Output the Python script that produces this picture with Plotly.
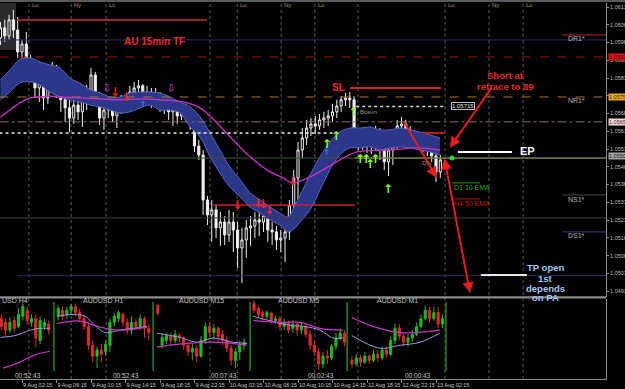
import plotly.graph_objects as go

FONT = "Liberation Sans"
SYM = "DejaVu Sans"
H = 389.0


def py(px):
    return 1 - px / H


# ---------------- main AUDUSD chart (price bars) ----------------
bar_open = [1.06004, 1.06047, 1.06013, 1.06081, 1.06038, 1.05945, 1.05979, 1.05903, 1.05886, 1.05793,
            1.05852, 1.05751, 1.05819, 1.05869, 1.05785, 1.05743, 1.05709, 1.05666, 1.05721, 1.05692,
            1.05743, 1.05776, 1.05848, 1.05759, 1.05666, 1.05700, 1.05726, 1.05675, 1.05709, 1.05743,
            1.05726, 1.05776, 1.05793, 1.05802, 1.05759, 1.05776, 1.05751, 1.05768, 1.05717, 1.05743,
            1.05692, 1.05709, 1.05675, 1.05700, 1.05675, 1.05641, 1.05548, 1.05510, 1.05320, 1.05257,
            1.05278, 1.05202, 1.05227, 1.05172, 1.05227, 1.05193, 1.05117, 1.05151, 1.05202, 1.05210,
            1.05236, 1.05227, 1.05252, 1.05193, 1.05185, 1.05151, 1.05159, 1.05185, 1.05299, 1.05413,
            1.05531, 1.05582, 1.05624, 1.05641, 1.05633, 1.05658, 1.05666, 1.05675, 1.05692, 1.05717,
            1.05743, 1.05751, 1.05743, 1.05590, 1.05565, 1.05582, 1.05548, 1.05574, 1.05598, 1.05540,
            1.05481, 1.05531, 1.05574, 1.05633, 1.05641, 1.05616, 1.05598, 1.05582, 1.05565, 1.05548,
            1.05531, 1.05506, 1.05438]
bar_close = [1.06047, 1.06013, 1.06081, 1.06038, 1.05945, 1.05979, 1.05903, 1.05886, 1.05793, 1.05852,
             1.05751, 1.05819, 1.05869, 1.05785, 1.05743, 1.05709, 1.05666, 1.05721, 1.05692, 1.05743,
             1.05776, 1.05848, 1.05759, 1.05666, 1.05700, 1.05726, 1.05675, 1.05709, 1.05743, 1.05726,
             1.05776, 1.05793, 1.05802, 1.05759, 1.05776, 1.05751, 1.05768, 1.05717, 1.05743, 1.05692,
             1.05709, 1.05675, 1.05700, 1.05675, 1.05641, 1.05548, 1.05510, 1.05320, 1.05257, 1.05278,
             1.05202, 1.05227, 1.05172, 1.05227, 1.05193, 1.05117, 1.05151, 1.05202, 1.05210, 1.05236,
             1.05227, 1.05252, 1.05193, 1.05185, 1.05151, 1.05159, 1.05185, 1.05299, 1.05413, 1.05531,
             1.05582, 1.05624, 1.05641, 1.05633, 1.05658, 1.05666, 1.05675, 1.05692, 1.05717, 1.05743,
             1.05751, 1.05743, 1.05590, 1.05565, 1.05582, 1.05548, 1.05574, 1.05598, 1.05540, 1.05481,
             1.05531, 1.05574, 1.05633, 1.05641, 1.05616, 1.05598, 1.05582, 1.05565, 1.05548, 1.05531,
             1.05506, 1.05438, 1.05489]
bar_high = [1.06072, 1.06081, 1.06102, 1.06123, 1.06093, 1.05996, 1.06030, 1.05933, 1.05912, 1.05903,
            1.05861, 1.05835, 1.05903, 1.05890, 1.05819, 1.05759, 1.05743, 1.05743, 1.05759, 1.05764,
            1.05806, 1.05878, 1.05861, 1.05776, 1.05726, 1.05751, 1.05743, 1.05726, 1.05764, 1.05768,
            1.05802, 1.05819, 1.05827, 1.05810, 1.05802, 1.05793, 1.05793, 1.05776, 1.05759, 1.05751,
            1.05734, 1.05726, 1.05717, 1.05726, 1.05700, 1.05692, 1.05574, 1.05531, 1.05337, 1.05320,
            1.05299, 1.05269, 1.05252, 1.05278, 1.05269, 1.05227, 1.05202, 1.05236, 1.05252, 1.05269,
            1.05278, 1.05286, 1.05269, 1.05227, 1.05210, 1.05193, 1.05214, 1.05320, 1.05447, 1.05565,
            1.05624, 1.05658, 1.05666, 1.05675, 1.05683, 1.05692, 1.05700, 1.05726, 1.05743, 1.05759,
            1.05772, 1.05776, 1.05759, 1.05616, 1.05607, 1.05598, 1.05607, 1.05633, 1.05624, 1.05557,
            1.05557, 1.05603, 1.05658, 1.05671, 1.05658, 1.05633, 1.05616, 1.05598, 1.05582, 1.05574,
            1.05548, 1.05523, 1.05510]
bar_low = [1.05975, 1.05988, 1.05996, 1.06004, 1.05920, 1.05903, 1.05869, 1.05861, 1.05751, 1.05734,
           1.05700, 1.05726, 1.05793, 1.05751, 1.05692, 1.05650, 1.05607, 1.05641, 1.05658, 1.05628,
           1.05700, 1.05751, 1.05721, 1.05637, 1.05616, 1.05666, 1.05650, 1.05624, 1.05683, 1.05692,
           1.05709, 1.05743, 1.05759, 1.05726, 1.05734, 1.05709, 1.05726, 1.05692, 1.05683, 1.05658,
           1.05633, 1.05641, 1.05658, 1.05650, 1.05616, 1.05523, 1.05489, 1.05257, 1.05214, 1.05143,
           1.05159, 1.05126, 1.05130, 1.05143, 1.05100, 1.05033, 1.04969, 1.05075, 1.05126, 1.05159,
           1.05168, 1.05185, 1.05143, 1.05130, 1.05109, 1.05100, 1.05058, 1.05151, 1.05257, 1.05320,
           1.05497, 1.05552, 1.05590, 1.05598, 1.05616, 1.05624, 1.05633, 1.05650, 1.05666, 1.05692,
           1.05717, 1.05709, 1.05574, 1.05531, 1.05531, 1.05519, 1.05514, 1.05531, 1.05489, 1.05447,
           1.05421, 1.05468, 1.05531, 1.05607, 1.05582, 1.05565, 1.05548, 1.05531, 1.05523, 1.05506,
           1.05481, 1.05396, 1.05413]
bars = list(range(len(bar_open)))

# ---------------- MA ribbon and 89 MA ----------------
band_x = [0, 2.2, 4.5, 6.9, 9.2, 11.5, 13.8, 16.1, 18.4, 20.8, 23.1, 25.4, 27.7, 30.0, 32.4, 34.7,
          37.0, 39.3, 41.6, 44.0, 46.3, 48.6, 50.9, 53.2, 55.6, 57.9, 60.2, 62.5, 64.8, 66.7, 68.3,
          69.5, 71.8, 74.1, 76.4, 78.7, 81.1, 83.4, 85.7, 88.0, 90.3, 92.7, 95.0, 97.3, 99.6, 101.9]
band_upper = [1.05827, 1.05869, 1.05912, 1.05920, 1.05903, 1.05890, 1.05878, 1.05835, 1.05814, 1.05785,
              1.05772, 1.05755, 1.05755, 1.05772, 1.05776, 1.05776, 1.05772, 1.05755, 1.05734, 1.05713,
              1.05671, 1.05603, 1.05531, 1.05459, 1.05405, 1.05350, 1.05320, 1.05290, 1.05265, 1.05248,
              1.05299, 1.05341, 1.05426, 1.05502, 1.05565, 1.05607, 1.05624, 1.05624, 1.05628, 1.05616,
              1.05616, 1.05624, 1.05616, 1.05607, 1.05595, 1.05582]
band_lower = [1.05743, 1.05776, 1.05814, 1.05819, 1.05806, 1.05776, 1.05755, 1.05743, 1.05734, 1.05721,
              1.05713, 1.05700, 1.05688, 1.05692, 1.05709, 1.05721, 1.05700, 1.05700, 1.05688, 1.05628,
              1.05586, 1.05502, 1.05434, 1.05375, 1.05333, 1.05290, 1.05265, 1.05236, 1.05214, 1.05185,
              1.05202, 1.05227, 1.05278, 1.05362, 1.05447, 1.05510, 1.05540, 1.05540, 1.05544, 1.05531,
              1.05540, 1.05544, 1.05540, 1.05531, 1.05523, 1.05510]
ma89_x = [0, 2.2, 4.5, 6.9, 9.2, 11.5, 13.8, 18.4, 23.1, 27.7, 32.4, 37.0, 42.3, 46.3, 50.2, 53.9,
          57.9, 61.8, 65.5, 67.8, 71.8, 74.8, 78.7, 82.7, 90.3, 96.6, 101.9]
ma89_y = [1.05671, 1.05700, 1.05730, 1.05751, 1.05755, 1.05759, 1.05755, 1.05751, 1.05747, 1.05743,
          1.05747, 1.05743, 1.05734, 1.05709, 1.05645, 1.05574, 1.05502, 1.05447, 1.05413, 1.05392,
          1.05417, 1.05447, 1.05489, 1.05523, 1.05531, 1.05540, 1.05531]

# ---------------- signal arrows ----------------
up_x = [75.7, 77.8, 81.8, 83.4, 84.8, 85.7, 86.9, 89.9]
up_y = [1.05552, 1.05586, 1.05688, 1.05489, 1.05489, 1.05468, 1.05489, 1.05362]
dn_x = [26.6, 29.1, 54.9, 59.7, 60.9, 62.3, 67.8]
dn_y = [1.05772, 1.05751, 1.05295, 1.05303, 1.05299, 1.05274, 1.05396]
hollow_x = [24.7, 39.6]
hollow_y = [1.05789, 1.05789]
blue_x = [33.1, 75.7]
blue_y = [1.05721, 1.05519]
entry_x = [104.7]
entry_y = [1.05497]

# ---------------- horizontal levels ----------------
level_price = [1.06080, 1.05996, 1.06017, 1.05924, 1.05755, 1.05650, 1.05603, 1.05715, 1.05793,
               1.05497, 1.05497, 1.05244, 1.05299, 1.05000, 1.05341, 1.05185, 1.05603, 1.05523,
               1.05003, 1.05392, 1.05324]
level_from = [3.8, -0.2, 130.2, -0.2, -0.2, -0.2, -0.2, 82.5, 81.1, -0.2, 82.2, -0.2, 49.3, 3.8,
              130.4, 130.4, 98.0, 106.1, 111.4, 104.7, 104.7]
level_to = [47.9, 140.5, 140.5, 140.5, 140.5, 140.5, 77.1, 103.3, 102.2, 140.5, 140.5, 140.5, 82.2,
            140.5, 140.5, 140.5, 103.1, 118.6, 122.1, 111.2, 111.2]
level_style = [('#d42a3c', 'solid', 1.5), ('#2c2c6c', 'solid', 1), ('#9a1a1a', 'solid', 1.2),
               ('#a01414', 'dash', 1), ('#a8782a', 'dash', 1), ('#8a6a6a', 'dashdot', 1),
               ('#e8e8e8', 'dot', 1.5), ('#d8d8d8', 'dot', 1.5), ('#d81e1e', 'solid', 2),
               ('#3d5a34', 'solid', 1), ('#9c9c40', 'solid', 1), ('#3c4434', 'solid', 1),
               ('#c8203c', 'solid', 1.5), ('#2a2a64', 'solid', 1), ('#4a4a4a', 'solid', 1),
               ('#3c3c86', 'solid', 1), ('#c41a1a', 'solid', 2), ('#ffffff', 'solid', 2),
               ('#dde8f5', 'solid', 2), ('#149a14', 'solid', 1), ('#a81414', 'solid', 1)]

# ---------------- axes labels ----------------
price_tick_text = ["1.06135", "1.06060", "1.05985", "1.05910", "1.05835", "1.05760", "1.05685",
                   "1.05610", "1.05535", "1.05460", "1.05385", "1.05310", "1.05235", "1.05160",
                   "1.05085", "1.05010", "1.04935"]
time_tick_bar = [5, 13, 21, 29, 37, 45, 53, 61, 69, 77, 85, 93, 101]
time_tick_text = ["9 Aug 02:15", "9 Aug 06:15", "9 Aug 10:15", "9 Aug 14:15", "9 Aug 18:15",
                  "9 Aug 22:15", "10 Aug 02:15", "10 Aug 06:15", "10 Aug 10:15", "10 Aug 14:15",
                  "12 Aug 18:15", "12 Aug 22:15", "13 Aug 02:15"]
session_bar = [6.6, 16.4, 24.5, 54.9, 65.1, 72.9, 103.1, 113.3, 121.2]
session_name = ["Lo", "Ny", "Lc", "Lo", "Ny", "Lc", "Lo", "Ny", "Lc"]
extra_vline_bar = [48.6, 82.9]

# ---------------- lower window: multi-timeframe mini charts ----------------
h4_open = [80, 74, 61, 77, 67, 84, 94, 74, 80, 44, 67, 71]
h4_close = [67, 61, 74, 64, 87, 100, 77, 80, 48, 77, 74, 61]
h4_high = [87, 80, 82, 84, 97, 105, 100, 87, 87, 84, 80, 77]
h4_low = [61, 52, 56, 57, 64, 77, 71, 67, 33, 38, 61, 54]
h1_open = [84, 94, 87, 94, 100, 90, 80, 67, 36, 18, 28, 25, 36, 74, 80, 87, 74, 61, 74, 67, 80, 64]
h1_close = [97, 84, 94, 100, 90, 80, 67, 36, 18, 28, 21, 38, 74, 84, 90, 74, 61, 74, 67, 80, 64, 57]
h1_high = [102, 100, 100, 105, 105, 97, 87, 74, 44, 34, 38, 44, 80, 90, 94, 90, 80, 84, 80, 87, 84, 71]
h1_low = [77, 77, 80, 87, 84, 74, 61, 28, 8, -2, 8, 18, 25, 67, 74, 67, 54, 54, 61, 61, 48, 44]
m15_open = [102, 36, 44, 51, 44, 52, 48, 36, 25, 31, 18, 44, 67, 57, 64, 54, 44, 31, 11, 25, 36]
m15_close = [89, 49, 52, 44, 54, 48, 36, 25, 31, 18, 44, 67, 57, 64, 51, 44, 31, 11, 25, 36, 41]
m15_high = [105, 56, 57, 57, 61, 56, 52, 41, 38, 36, 51, 74, 74, 71, 67, 61, 51, 36, 31, 44, 48]
m15_low = [85, 31, 38, 36, 39, 41, 28, 18, 11, 8, 15, 38, 49, 44, 41, 36, 25, 3, -2, 11, 28]
m5_open = [105, 97, 90, 84, 89, 77, 80, 67, 74, 64, 71, 61, 67, 54, 36, 25, 5, 18, 15, 34, 48, 56]
m5_close = [94, 87, 84, 90, 77, 80, 67, 74, 61, 71, 61, 67, 54, 36, 25, 5, 18, 15, 34, 48, 56, 41]
m5_high = [110, 102, 95, 94, 92, 85, 84, 80, 77, 77, 74, 74, 72, 61, 44, 31, 25, 28, 38, 56, 64, 61]
m5_low = [90, 82, 77, 79, 72, 71, 61, 61, 56, 57, 52, 54, 49, 28, 18, -5, -2, 5, 11, 28, 44, 34]
m1_open = [11, 5, 15, 8, 18, 11, 21, 15, 28, 21, 44, 64, 51, 41, 48, 54, 67, 80, 94, 80, 90, 71]
m1_close = [5, 15, 8, 18, 11, 21, 15, 28, 21, 44, 64, 51, 41, 48, 54, 67, 80, 94, 80, 90, 71, 80]
m1_high = [18, 21, 20, 25, 21, 28, 28, 34, 34, 51, 72, 71, 57, 54, 61, 74, 87, 102, 99, 100, 100, 87]
m1_low = [-2, 2, 0, 5, 5, 8, 8, 11, 15, 18, 38, 44, 34, 34, 41, 51, 64, 77, 74, 77, 64, 64]
mini_start = [0.2, 13.4, 36.5, 58.8, 81.5]

slow_x = [[0, 3.4, 6.9, 9.2, 11.5], [13.1, 17.3, 19.6, 21.9, 24.2, 27.7, 34.0],
          [36.3, 41.6, 45.6, 49.3, 53.9, 57.2], [58.6, 67.1, 70.6, 74.1, 77.1, 79.4],
          [81.5, 88.0, 92.7, 97.3, 101.9]]
slow_y = [[49, 52, 61, 64, 64], [84, 87, 84, 69, 57, 61, 67], [56, 49, 41, 48, 41, 39],
          [84, 69, 67, 61, 48, 48], [52, 31, 36, 41, 56]]
fast_x = [[0.6, 4.5, 8.0, 11.5], [13.1, 18.4, 23.1, 27.7, 34.0], [36.3, 43.3, 49.3, 57.2],
          [58.6, 64.8, 69.5, 74.1, 79.4], [81.5, 85.7, 92.7, 101.9]]
fast_y = [[-2, 8, 20, 26], [72, 76, 66, 61, 66], [33, 39, 41, 36], [77, 74, 74, 64, 61],
          [82, 69, 57, 61]]
separator_bar = [12.4, 35.4, 57.9, 80.4, 103.3]
panel_title = ["USD H4", "AUDUSD H1", "AUDUSD M15", "AUDUSD M5", "AUDUSD M1"]
panel_title_bar = [-0.1, 23.8, 46.7, 69.0, 92.0]
panel_timer = ["00:52:43", "00:52:43", "00:07:43", "00:02:43", "00:00:43"]
panel_timer_bar = [6.4, 29.1, 51.8, 74.3, 96.8]

fig = go.Figure()

# ribbon
fig.add_trace(go.Scatter(x=band_x, y=band_upper, mode='lines', hoverinfo='skip',
                         line=dict(color='#5866c2', width=1, shape='spline')))
fig.add_trace(go.Scatter(x=band_x, y=band_lower, mode='lines', hoverinfo='skip', fill='tonexty',
                         fillcolor='#2d378a', line=dict(color='#5866c2', width=1, shape='spline')))

# levels
for p, a, b, st in zip(level_price, level_from, level_to, level_style):
    c, d, w = st
    fig.add_trace(go.Scatter(x=[a, b], y=[p, p], mode='lines', hoverinfo='skip',
                             line=dict(color=c, dash=d, width=w)))

# 89 MA
fig.add_trace(go.Scatter(x=ma89_x, y=ma89_y, mode='lines', hoverinfo='skip',
                         line=dict(color='#c832c8', width=1.3, shape='spline')))

# price bars
fig.add_trace(go.Candlestick(
    x=bars, open=bar_open, high=bar_high, low=bar_low, close=bar_close, whiskerwidth=0,
    increasing=dict(line=dict(color='#f0f0f0', width=1), fillcolor='#000000'),
    decreasing=dict(line=dict(color='#f0f0f0', width=1), fillcolor='#f0f0f0'),
    hoverinfo='skip'))

# signal arrows
fig.add_trace(go.Scatter(x=up_x, y=up_y, mode='text', text=['↑'] * len(up_x), hoverinfo='skip',
                         textfont=dict(family=SYM, size=12, color='#8cff28', weight='bold')))
fig.add_trace(go.Scatter(x=dn_x, y=dn_y, mode='text', text=['↓'] * len(dn_x), hoverinfo='skip',
                         textfont=dict(family=SYM, size=12, color='#ff2020', weight='bold')))
fig.add_trace(go.Scatter(x=hollow_x, y=hollow_y, mode='text', text=['⇩'] * len(hollow_x),
                         hoverinfo='skip', textfont=dict(family=SYM, size=11, color='#d040d0')))
fig.add_trace(go.Scatter(x=blue_x, y=blue_y, mode='text', text=['↑'] * len(blue_x),
                         hoverinfo='skip', textfont=dict(family=SYM, size=8, color='#3a8cff')))
fig.add_trace(go.Scatter(x=entry_x, y=entry_y, mode='markers', hoverinfo='skip',
                         marker=dict(size=5, color='#22dd22')))

# lower window mini charts
mini = [(h4_open, h4_high, h4_low, h4_close), (h1_open, h1_high, h1_low, h1_close),
        (m15_open, m15_high, m15_low, m15_close), (m5_open, m5_high, m5_low, m5_close),
        (m1_open, m1_high, m1_low, m1_close)]
for k, (o, hh, ll, cc) in enumerate(mini):
    xs = [mini_start[k] + j for j in range(len(o))]
    fig.add_trace(go.Candlestick(
        x=xs, open=o, high=hh, low=ll, close=cc, yaxis='y2', whiskerwidth=0, hoverinfo='skip',
        increasing=dict(line=dict(color='#22b822', width=1), fillcolor='#22b822'),
        decreasing=dict(line=dict(color='#e02a2a', width=1), fillcolor='#e02a2a')))
    fig.add_trace(go.Scatter(x=slow_x[k], y=slow_y[k], yaxis='y2', mode='lines', hoverinfo='skip',
                             line=dict(color='#9a9ae6', width=1, shape='spline')))
    fig.add_trace(go.Scatter(x=fast_x[k], y=fast_y[k], yaxis='y2', mode='lines', hoverinfo='skip',
                             line=dict(color='#c836c8', width=1.2, shape='spline')))

shapes = []
for xv in session_bar + extra_vline_bar:
    shapes.append(dict(type='line', xref='x', yref='paper', x0=xv, x1=xv, y0=py(379), y1=py(3),
                       line=dict(color='#5c5c5c', width=1, dash='dot'), layer='below'))
for xv in separator_bar:
    shapes.append(dict(type='line', xref='x', yref='paper', x0=xv, x1=xv, y0=py(371), y1=py(302),
                       line=dict(color='#1f8a1f', width=1.5)))
shapes.append(dict(type='rect', xref='x', yref='y', x0=-0.3, x1=3.6, y0=1.05954, y1=1.06160,
                   fillcolor='#2a2a2a', line=dict(width=0), layer='below'))
shapes.append(dict(type='rect', xref='paper', yref='paper', x0=-0.01, x1=1.04, y0=py(2), y1=py(0),
                   fillcolor='#5a5a5a', line=dict(width=0)))
shapes.append(dict(type='rect', xref='paper', yref='paper', x0=-0.01, x1=1.0, y0=py(298.5),
                   y1=py(296.3), fillcolor='#8a8a8a', line=dict(width=0)))

anns = []


def T(text, x, y, size, color, xanchor='center', yanchor='middle', xref='x', yref='y', **kw):
    d = dict(text=text, x=x, y=y, xref=xref, yref=yref, showarrow=False, xanchor=xanchor,
             yanchor=yanchor, font=dict(family=FONT, size=size, color=color))
    d.update(kw)
    anns.append(d)


RED = '#ea2a2a'
T("<b>AU 15min TF</b>", 35.8, 1.05988, 10, RED)
T("<b>SL</b>", 78.3, 1.05793, 10, RED)
T("<b>Short at</b>", 117.2, 1.05844, 9.5, RED)
T("<b>retrace to 89</b>", 117.2, 1.05798, 9.5, RED)
T("<b>EP</b>", 120.0, 1.05527, 11, '#ffffff', xanchor='left')
tp_lines = ["TP open", "1st", "depends", "on PA"]
tp_y = [1.05033, 1.04990, 1.04948, 1.04910]
for s, yv in zip(tp_lines, tp_y):
    T("<b>%s</b>" % s, 126.3, yv, 9.5, '#a6c8f0')
T("Bosun", 82.9, 1.05692, 6, '#9a9a9a', xanchor='left')
T("DIV", 97.3, 1.05476, 6, '#9a9a9a', xanchor='left')
T("D1 10 EMA", 104.7, 1.05371, 7, '#22b422', xanchor='left')
T("H4 50 EMA", 104.7, 1.05307, 7, '#c41c1c', xanchor='left')
for s, yv in zip(["DR1*", "NR1*", "NS1*", "DS1*"], [1.06004, 1.05738, 1.05324, 1.05168]):
    T(s, 131.1, yv, 7, '#b4b4b4', xanchor='left')
T("1.05715", 104.5, 1.05715, 6, '#e0e0e0', xanchor='left', bordercolor='#bdbdbd',
  borderwidth=1, borderpad=0, bgcolor='#000000')

# session labels
for s, xv in zip(session_name, session_bar):
    T(s, xv, py(5), 6, '#a89a5c', xanchor='left', yref='paper', xshift=1)

# right axis highlighted prices
for s, yv, bg, fc in [("1.05924", 1.05924, '#e01414', '#3a0000'),
                      ("1.05755", 1.05755, '#e8a820', '#402800'),
                      ("1.05650", 1.05650, '#f0dcdc', '#502020'),
                      ("1.05505", 1.05506, '#a4a4a4', '#202020')]:
    T(s, 1.0, yv, 5.5, fc, xanchor='left', xref='paper', xshift=2, bgcolor=bg, borderpad=0)

# lower window labels
for s, xv in zip(panel_title, panel_title_bar):
    T(s, xv, py(300.5), 7, '#c4c4c4', xanchor='left' if s == "USD H4" else 'center', yref='paper')
for s, xv in zip(panel_timer, panel_timer_bar):
    T(s, xv, py(375), 6.5, '#c4c4c4', yref='paper')
T("115", 1.0, py(298), 5.5, '#bfbfbf', xanchor='left', xref='paper', xshift=3)
T("0.80", 1.0, py(368), 5.5, '#bfbfbf', xanchor='left', xref='paper', xshift=3)
T("-15", 1.0, py(375), 5.5, '#bfbfbf', xanchor='left', xref='paper', xshift=3)
T("22:15", 0.0, py(385), 6, '#c8c8c8', xanchor='left', xref='paper')

# trade arrows
for x0, y0, x1, y1, side in [(114.2, 1.05802, 104.2, 1.05540, 'end'),
                             (93.3, 1.05658, 101.2, 1.05413, 'end'),
                             (102.9, 1.05502, 108.9, 1.04927, 'end+start')]:
    anns.append(dict(x=x1, y=y1, ax=x0, ay=y0, xref='x', yref='y', axref='x', ayref='y', text='',
                     showarrow=True, arrowhead=2, arrowsize=1.1, arrowwidth=2, arrowcolor='#e81c1c',
                     arrowside=side, standoff=0, startstandoff=0))

fig.update_layout(
    width=625, height=389, margin=dict(l=0, r=19, t=0, b=0),
    paper_bgcolor='#000000', plot_bgcolor='#000000', showlegend=False,
    font=dict(family=FONT, color='#c8c8c8'),
    shapes=shapes, annotations=anns,
    xaxis=dict(range=[-0.102, 140.42], domain=[0, 1], anchor='y2', showgrid=False, zeroline=False,
               showline=True, linecolor='#8c8c8c', linewidth=1, tickvals=time_tick_bar,
               ticktext=time_tick_text, ticks='outside', ticklen=3, tickcolor='#8c8c8c',
               tickangle=0, ticklabelposition='outside right',
               tickfont=dict(size=5.5, color='#c8c8c8'),
               rangeslider=dict(visible=False), automargin=False, fixedrange=True),
    yaxis=dict(domain=[py(297), py(3)], range=[1.04910, 1.06152], side='right', anchor='x',
               tickvals=[float(s) for s in price_tick_text], ticktext=price_tick_text,
               ticks='outside', ticklen=2, tickcolor='#8c8c8c',
               tickfont=dict(size=5.5, color='#bfbfbf'), showline=True, linecolor='#8c8c8c',
               showgrid=False, zeroline=False, automargin=False, fixedrange=True),
    yaxis2=dict(domain=[py(379), py(298.5)], range=[-19.9, 113.4], side='right', anchor='x',
                showticklabels=False, ticks='', showline=True, linecolor='#8c8c8c',
                showgrid=False, zeroline=False, automargin=False, fixedrange=True),
)

fig.write_html("out.html")
